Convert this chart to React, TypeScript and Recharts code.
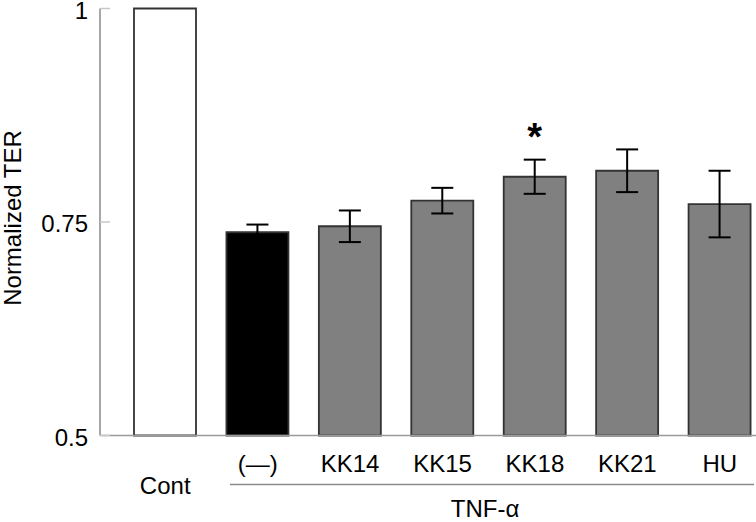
import React from "react";
import { BarChart, Bar, XAxis, YAxis, ErrorBar, Cell, LabelList } from "recharts";

const categories = ["Cont", "(—)", "KK14", "KK15", "KK18", "KK21", "HU"];
const values = [1.0, 0.738, 0.745, 0.775, 0.803, 0.81, 0.771];
const errors = [0, 0.009, 0.0185, 0.015, 0.02, 0.025, 0.039];
const significance = ["", "", "", "", "*", "", ""];
const yTicks = [0.5, 0.75, 1];
const yDomain: [number, number] = [0.5, 1];
const groupLabel = "TNF-α";
const yLabel = "Normalized TER";

const barFills = ["#ffffff", "#000000", "#808080", "#808080", "#808080", "#808080", "#808080"];

const data = categories.map((c, i) => ({
  name: c,
  value: values[i],
  err: errors[i] > 0 ? errors[i] : null,
  sig: significance[i],
}));

const FONT = "'Liberation Sans', Arial, Helvetica, sans-serif";

const YTick = (props: any) => {
  const { x, y, payload } = props;
  return (
    <g>
      <line x1={x} x2={x + 10} y1={y} y2={y} stroke="#c8c8c8" strokeWidth={1.5} />
      <text x={x - 12} y={y + 10} textAnchor="end" fontSize={24} fontFamily={FONT} fill="#000">
        {payload.value}
      </text>
    </g>
  );
};

const XTick = (props: any) => {
  const { x, y, payload, index } = props;
  const dy = index === 0 ? 58 : 36;
  return (
    <text x={x} y={y + dy} textAnchor="middle" fontSize={24} fontFamily={FONT} fill="#000">
      {payload.value}
    </text>
  );
};

const SigLabel = (props: any) => {
  const { x, y, width, height, value, index } = props;
  if (!value) return null;
  const perUnit = height / (values[index] - yDomain[0]);
  const errTop = y - errors[index] * perUnit;
  return (
    <text x={x + width / 2} y={errTop - 10} textAnchor="middle" fontSize={38} fontWeight="bold" fontFamily={FONT} fill="#000">
      {value}
    </text>
  );
};

export default function App() {
  return (
    <div style={{ position: "absolute", left: 0, top: 0, width: 756, height: 522, overflow: "hidden", background: "#fff" }}>
      <BarChart width={766} height={522} data={data} margin={{ top: 8.5, right: 0, bottom: 0, left: 0 }} barSize={62}>
        <YAxis
          domain={yDomain}
          ticks={yTicks}
          width={100}
          tickSize={0}
          tickMargin={0}
          tickLine={false}
          axisLine={{ stroke: "#8a8a8a", strokeWidth: 1.5 }}
          tick={<YTick />}
          interval={0}
        />
        <XAxis
          dataKey="name"
          height={86.5}
          padding={{ left: 19, right: 0 }}
          tickSize={0}
          tickMargin={0}
          tickLine={false}
          axisLine={{ stroke: "#9a9a9a", strokeWidth: 1.5 }}
          tick={<XTick />}
          interval={0}
        />
        <Bar dataKey="value" isAnimationActive={false} stroke="#333" strokeWidth={1.8}>
          {data.map((d, i) => (
            <Cell key={d.name} fill={barFills[i]} />
          ))}
          <ErrorBar dataKey="err" width={11} stroke="#000" strokeWidth={2} direction="y" />
          <LabelList dataKey="sig" content={<SigLabel />} />
        </Bar>
      </BarChart>
      <svg width={756} height={522} style={{ position: "absolute", left: 0, top: 0, pointerEvents: "none" }}>
        <text
          transform="translate(21,218) rotate(-90)"
          textAnchor="middle"
          fontSize={24}
          fontFamily={FONT}
          fill="#000"
        >
          {yLabel}
        </text>
        <line x1={230} x2={754} y1={484.5} y2={484.5} stroke="#8a8a8a" strokeWidth={1.5} />
        <text x={485} y={517} textAnchor="middle" fontSize={24} fontFamily={FONT} fill="#000">
          {groupLabel}
        </text>
      </svg>
    </div>
  );
}
